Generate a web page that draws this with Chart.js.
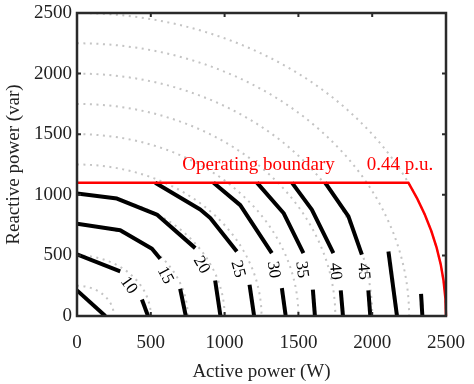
<!DOCTYPE html>
<html>
<head>
<meta charset="utf-8">
<script src="https://cdn.jsdelivr.net/npm/chart.js@4.4.0/dist/chart.umd.min.js"></script>
<style>
  body { margin: 0; background: #fff; }
  #wrap { width: 474px; height: 384px; }
</style>
</head>
<body>
<div id="wrap"><canvas id="pq" width="474" height="384"></canvas></div>
<script>
// Apparent power circles (dotted) and the operating boundary
const circleRadii = [250, 500, 750, 1000, 1250, 1500, 1750, 2000, 2250, 2500];
const qLimit = 1100;      // 0.44 p.u.
const sRating = 2500;

// Contour lines, [P, Q] pairs, split where labels sit
const contour5 = [[0, 211], [192, 0]];
const contour10a = [[0, 508], [293, 368]];
const contour10b = [[440, 136], [481, 0]];
const contour15a = [[0, 762], [293, 707], [508, 555], [564, 473]];
const contour15b = [[699, 225], [737, 0]];
const contour20a = [[0, 1010], [271, 969], [541, 837], [801, 560]];
const contour20b = [[936, 293], [972, 0]];
const contour25a = [[530, 1100], [835, 878], [903, 808], [1083, 533]];
const contour25b = [[1169, 258], [1200, 0]];
const contour30a = [[925, 1100], [1106, 915], [1320, 519]];
const contour30b = [[1388, 230], [1414, 0]];
const contour35a = [[1219, 1100], [1399, 850], [1534, 519]];
const contour35b = [[1598, 217], [1612, 0]];
const contour40a = [[1456, 1100], [1591, 878], [1737, 519]];
const contour40b = [[1787, 211], [1802, 0]];
const contour45a = [[1681, 1100], [1839, 822], [1930, 506]];
const contour45b = [[1974, 211], [1987, 0]];
const contour50 = [[2110, 533], [2168, 0]];
const contour55 = [[2331, 183], [2340, 0]];

// Contour labels
const labelText = ["10", "15", "20", "25", "30", "35", "40", "45"];
const labelP = [350, 598, 842, 1089, 1331, 1523, 1749, 1941];
const labelQ = [252, 335, 421, 388, 382, 382, 368, 368];
const labelAngle = [55, 62, 60, 75, 82, 82, 85, 85];

const contours = [contour5, contour10a, contour10b, contour15a, contour15b,
  contour20a, contour20b, contour25a, contour25b, contour30a, contour30b,
  contour35a, contour35b, contour40a, contour40b, contour45a, contour45b,
  contour50, contour55];

const serif = "'Liberation Serif', 'Times New Roman', serif";
const frameColor = "#2a2a2a";

const datasets = contours.map(c => ({
  data: c.map(p => ({ x: p[0], y: p[1] })),
  showLine: true,
  borderColor: "#000",
  borderWidth: 4,
  borderCapStyle: "butt",
  borderJoinStyle: "round",
  pointRadius: 0,
  tension: 0
}));

// circles, boundary, labels, frame and inside ticks
const extras = {
  id: "extras",
  beforeDatasetsDraw(chart) {
    const { ctx, chartArea, scales: { x, y } } = chart;
    const cx = x.getPixelForValue(0), cy = y.getPixelForValue(0);
    ctx.save();
    ctx.beginPath();
    ctx.rect(chartArea.left, chartArea.top, chartArea.right - chartArea.left, chartArea.bottom - chartArea.top);
    ctx.clip();
    ctx.strokeStyle = "#c4c4c4";
    ctx.lineWidth = 2;
    ctx.setLineDash([2, 4.5]);
    circleRadii.forEach(r => {
      const rx = x.getPixelForValue(r) - cx;
      const ry = cy - y.getPixelForValue(r);
      ctx.beginPath();
      ctx.ellipse(cx, cy, rx, ry, 0, -Math.PI / 2, 0);
      ctx.stroke();
    });
    ctx.restore();
  },
  afterDatasetsDraw(chart) {
    const { ctx, scales: { x, y } } = chart;
    const cx = x.getPixelForValue(0), cy = y.getPixelForValue(0);
    const rx = x.getPixelForValue(sRating) - cx;
    const ry = cy - y.getPixelForValue(sRating);
    const t0 = -Math.asin(qLimit / sRating);

    ctx.save();
    ctx.strokeStyle = "#ff0000";
    ctx.lineWidth = 2.5;
    ctx.beginPath();
    ctx.moveTo(cx, y.getPixelForValue(qLimit));
    ctx.ellipse(cx, cy, rx, ry, 0, t0, 0);
    ctx.stroke();

    ctx.fillStyle = "#ff0000";
    ctx.font = "19px " + serif;
    ctx.textBaseline = "alphabetic";
    ctx.textAlign = "left";
    ctx.fillText("Operating boundary", x.getPixelForValue(713), y.getPixelForValue(1202));
    ctx.fillText("0.44 p.u.", x.getPixelForValue(1963), y.getPixelForValue(1202));

    ctx.fillStyle = "#000";
    ctx.font = "17px " + serif;
    ctx.textAlign = "center";
    ctx.textBaseline = "middle";
    labelText.forEach((t, i) => {
      ctx.save();
      ctx.translate(x.getPixelForValue(labelP[i]), y.getPixelForValue(labelQ[i]));
      ctx.rotate(labelAngle[i] * Math.PI / 180);
      ctx.fillText(t, 0, 0);
      ctx.restore();
    });
    ctx.restore();
  },
  afterDraw(chart) {
    const { ctx, chartArea: a, scales: { x, y } } = chart;
    ctx.save();
    ctx.strokeStyle = frameColor;
    ctx.lineWidth = 2;
    const tl = 4;
    ctx.beginPath();
    x.ticks.forEach(t => {
      const px = x.getPixelForValue(t.value);
      ctx.moveTo(px, a.bottom); ctx.lineTo(px, a.bottom - tl);
      ctx.moveTo(px, a.top); ctx.lineTo(px, a.top + tl);
    });
    y.ticks.forEach(t => {
      const py = y.getPixelForValue(t.value);
      ctx.moveTo(a.left, py); ctx.lineTo(a.left + tl, py);
      ctx.moveTo(a.right, py); ctx.lineTo(a.right - tl, py);
    });
    ctx.stroke();
    ctx.lineWidth = 2.5;
    ctx.strokeRect(a.left, a.top, a.right - a.left, a.bottom - a.top);
    ctx.restore();
  }
};

const plain = v => String(v);

new Chart(document.getElementById("pq"), {
  type: "scatter",
  data: { datasets: datasets },
  options: {
    responsive: false,
    animation: false,
    layout: { padding: { left: 0, top: 13, right: 28, bottom: 0 } },
    plugins: { legend: { display: false }, tooltip: { enabled: false } },
    scales: {
      x: {
        type: "linear", min: 0, max: 2500,
        grid: { display: false, drawTicks: false },
        border: { display: false },
        ticks: { stepSize: 500, padding: 16, color: "#222", callback: plain, font: { family: serif, size: 19 } },
        title: { display: true, text: "Active power (W)", color: "#222", padding: { top: 0, bottom: 1 }, font: { family: serif, size: 19 } },
        afterFit(s) { s.height = 68; s.paddingLeft = 0; s.paddingRight = 0; }
      },
      y: {
        type: "linear", min: 0, max: 2500,
        grid: { display: false, drawTicks: false },
        border: { display: false },
        ticks: { stepSize: 500, padding: 5, color: "#222", callback: plain, font: { family: serif, size: 19 } },
        title: { display: true, text: "Reactive power (var)", color: "#222", padding: { top: 3, bottom: 0 }, font: { family: serif, size: 19 } },
        afterFit(s) { s.width = 77; s.paddingTop = 0; s.paddingBottom = 0; }
      }
    }
  },
  plugins: [extras]
});
</script>
</body>
</html>
